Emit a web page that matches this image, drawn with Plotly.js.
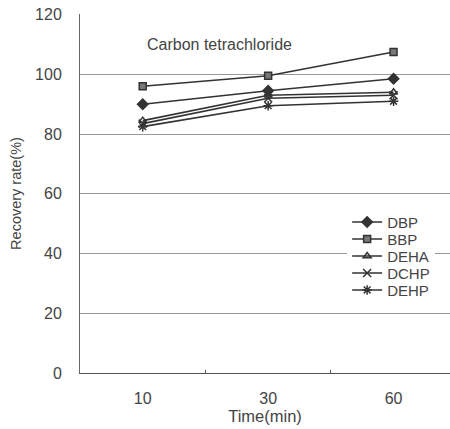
<!DOCTYPE html>
<html>
<head>
<meta charset="utf-8">
<script src="https://cdn.plot.ly/plotly-3.0.1.min.js"></script>
<style>
html,body{margin:0;padding:0;background:#fff;overflow:hidden;}
#chart{width:450px;height:429px;}
</style>
</head>
<body>
<div id="chart"></div>
<script>
const times = ['10', '30', '60'];
const seriesNames = ['DBP', 'BBP', 'DEHA', 'DCHP', 'DEHP'];
const dbp  = [90.0, 94.5, 98.5];
const bbp  = [96.0, 99.5, 107.5];
const deha = [84.5, 93.0, 94.0];
const dchp = [83.5, 92.0, 93.0];
const dehp = [82.5, 89.5, 91.0];
const yTicks = [0, 20, 40, 60, 80, 100, 120];
const chartTitle = 'Carbon tetrachloride';

const values = [dbp, bbp, deha, dchp, dehp];
const symbols = ['diamond', 'square', 'triangle-up-open', 'x-thin-open', 'asterisk-open'];
const fills = ['#333', '#777', '#333', '#333', '#333'];
const sizes = [8, 7, 7, 8, 8];

const traces = seriesNames.map((n, i) => ({
  x: times, y: values[i], name: n, type: 'scatter', mode: 'lines+markers',
  line: {color: '#333', width: 1.6},
  marker: {symbol: symbols[i], size: sizes[i], color: fills[i], line: {color: '#333', width: 1.5}}
}));

const layout = {
  width: 450, height: 429,
  margin: {l: 80, r: 0, t: 14, b: 56},
  paper_bgcolor: '#fff', plot_bgcolor: '#fff',
  font: {family: 'Liberation Sans, Arial, sans-serif', color: '#444', size: 15},
  showlegend: true,
  legend: {x: 0.722, y: 0.466, xanchor: 'left', yanchor: 'top', bgcolor: '#fff',
           font: {size: 15, color: '#444'}, borderwidth: 0},
  xaxis: {type: 'category', range: [-0.5, 2.45], tickson: 'boundaries', ticks: 'inside',
          ticklen: 3, tickcolor: '#555', showline: true, linecolor: '#555', linewidth: 1,
          showgrid: false, ticklabelstandoff: 11, tickfont: {size: 16, color: '#444'},
          title: {text: 'Time(min)', standoff: 0, font: {size: 16.5, color: '#444'}}},
  yaxis: {range: [0, 120.2], tickvals: yTicks, showline: true, linecolor: '#666', linewidth: 1,
          showgrid: true, gridcolor: '#999', gridwidth: 1, zeroline: false, ticks: '',
          ticklabelstandoff: 14, tickfont: {size: 16, color: '#444'},
          title: {text: 'Recovery rate(%)', standoff: 10, font: {size: 14.5, color: '#444'}}},
  annotations: [{text: chartTitle, xref: 'paper', yref: 'paper', x: 0.176, y: 0.914,
                 xanchor: 'left', yanchor: 'middle', showarrow: false,
                 font: {size: 16, color: '#444'}}]
};

Plotly.newPlot('chart', traces, layout, {staticPlot: true, displayModeBar: false}).then(gd => {
  // tighten legend row spacing to match the reference (17px per row)
  const items = gd.querySelectorAll('.legend .traces');
  if (!items.length) return;
  const parse = el => {
    const m = /translate\(\s*([-\d.]+)[ ,]+([-\d.]+)\s*\)/.exec(el.getAttribute('transform') || '');
    return m ? [parseFloat(m[1]), parseFloat(m[2])] : [0, 0];
  };
  const first = parse(items[0]);
  const oldStep = items.length > 1 ? parse(items[1])[1] - first[1] : 17;
  const step = 17;
  items.forEach((el, i) => {
    const p = parse(el);
    el.setAttribute('transform', 'translate(' + p[0] + ',' + (first[1] + i * step) + ')');
  });
  const bg = gd.querySelector('.legend .bg');
  if (bg) {
    const h = parseFloat(bg.getAttribute('height'));
    bg.setAttribute('height', h - (oldStep - step) * (items.length - 1));
  }
});
</script>
</body>
</html>
